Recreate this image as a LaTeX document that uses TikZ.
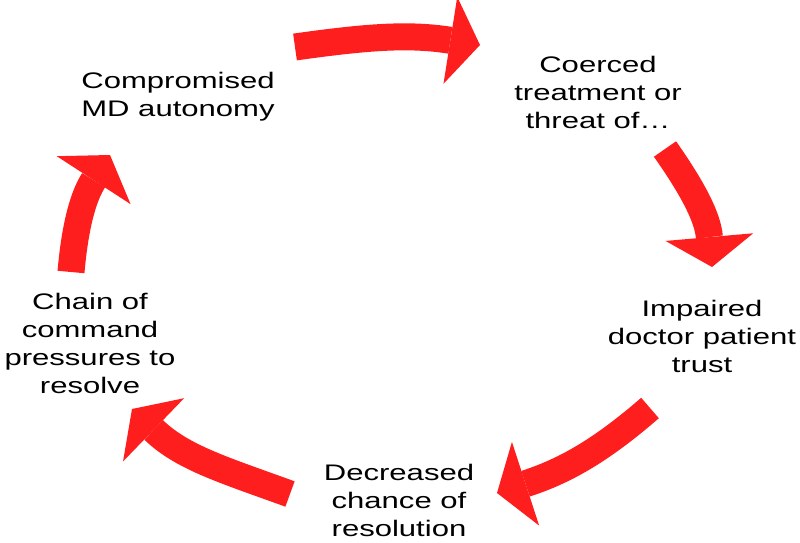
\documentclass[tikz,border=0pt]{standalone}
\usepackage{fontspec}
\setmainfont{Liberation Sans}[FakeStretch=1.38]
\usepackage{tikz}
\usetikzlibrary{arrows.meta}
\definecolor{cyclered}{RGB}{255,30,30}

\begin{document}
\begin{tikzpicture}[
    x=1pt, y=1pt,
    % Node styles
    stage/.style={align=center, inner sep=0pt, font=\fontsize{22.5}{28}\selectfont},
    cycarrow/.style={draw=cyclered, line width=27pt, -{Triangle[length=30pt, width=88pt, line width=0pt]}},
]
\useasboundingbox (0,0) rectangle (800,542);

% Stages
\node[stage] (autonomy) at (178, 445) {Compromised\\MD autonomy};
\node[stage] (coerced) at (598, 450) {Coerced\\treatment or\\threat of\dots};
\node[stage] (trust) at (702, 206) {Impaired\\doctor patient\\trust};
\node[stage] (resolution) at (399, 42) {Decreased\\chance of\\resolution};
\node[stage] (pressure) at (90, 199) {Chain of\\command\\pressures to\\resolve};

% Arrow ends
\coordinate (autonomy_out) at (295, 495);
\coordinate (coerced_in) at (480, 497);
\coordinate (coerced_out) at (665, 393);
\coordinate (trust_in) at (712, 275);
\coordinate (trust_out) at (650, 134);
\coordinate (resolution_in) at (497, 49);
\coordinate (resolution_out) at (290, 48);
\coordinate (pressure_in) at (132, 133);
\coordinate (pressure_out) at (71, 270);
\coordinate (autonomy_in) at (110, 387);

% Cycle arrows
\draw[cycarrow] (autonomy_out) to[out=8, in=171] (coerced_in);
\draw[cycarrow] (coerced_out) to[out=-55, in=95] (trust_in);
\draw[cycarrow] (trust_out) to[out=-139, in=18] (resolution_in);
\draw[cycarrow] (resolution_out) to[out=160, in=-44] (pressure_in);
\draw[cycarrow] (pressure_out) to[out=85, in=-123] (autonomy_in);

\end{tikzpicture}
\end{document}
